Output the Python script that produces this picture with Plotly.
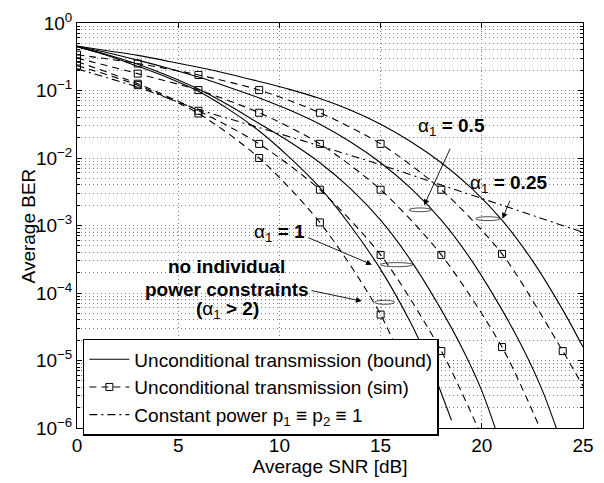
import plotly.graph_objects as go

# ---------------- data ----------------
# Bound curves (solid): SNR [dB] and BER
bound_x = [0, 1.5, 3, 4.5, 6, 7.5, 9, 10.5, 12, 13.5, 15, 16.5, 18, 19.5, 21, 22.5, 24, 25]
bound_a025_y = [0.457, 0.389, 0.331, 0.272, 0.221, 0.176, 0.136, 0.104, 0.0759, 0.0513,
                0.0316, 0.0174, 0.00851, 0.00355, 0.00120, 3.02e-4, 5.62e-5, 1.58e-5]

bound_a05_x = [0, 1.5, 3, 4.5, 6, 7.5, 9, 10.5, 12, 13.5, 15, 16.5, 18, 19.5, 21, 22, 23, 23.68]
bound_a05_y = [0.452, 0.363, 0.282, 0.214, 0.158, 0.112, 0.0776, 0.0513, 0.0316, 0.0174,
               0.00851, 0.00355, 0.00120, 3.02e-4, 5.62e-5, 1.58e-5, 3.55e-6, 1e-6]

bound_a1_x = [0, 1.5, 3, 4.5, 6, 7.5, 9, 10.5, 12, 13.5, 15, 16.5, 18, 19, 20, 20.66]
bound_a1_y = [0.447, 0.339, 0.245, 0.166, 0.105, 0.0603, 0.0324, 0.0174, 0.00851, 0.00355,
              0.00120, 3.02e-4, 5.62e-5, 1.58e-5, 3.55e-6, 1e-6]

bound_free_x = [0, 1.5, 3, 4.5, 6, 7.5, 9, 10.5, 12, 13.5, 15, 16.5, 17.5, 18.5]
bound_free_y = [0.447, 0.331, 0.229, 0.155, 0.0977, 0.0525, 0.0251, 0.0102, 0.00363, 0.001,
                2.24e-4, 3.55e-5, 7.94e-6, 1.3e-6]

# Simulation points (squares) every 3 dB
sim_a025_x = [0, 3, 6, 9, 12, 15, 18, 21, 24]
sim_a025_y = [0.339, 0.251, 0.170, 0.1014, 0.0468, 0.0162, 0.00339, 3.80e-4, 1.38e-5]
sim_a05_x = [0, 3, 6, 9, 12, 15, 18, 21]
sim_a05_y = [0.302, 0.178, 0.1014, 0.0468, 0.0162, 0.00339, 3.67e-4, 1.58e-5]
sim_a1_x = [0, 3, 6, 9, 12, 15, 18]
sim_a1_y = [0.269, 0.126, 0.0501, 0.0162, 0.00339, 3.67e-4, 1.38e-5]
sim_free_x = [0, 3, 6, 9, 12, 15]
sim_free_y = [0.234, 0.120, 0.0457, 0.010, 0.00111, 4.79e-5]

# Where the dashed sim curves continue after the last square
tail_a025 = (25, 4.17e-6)
tail_a05 = (22.87, 1e-6)
tail_a1 = (19.81, 1e-6)
tail_free = (17.39, 1e-6)

# Constant power p1 = p2 = 1 (dash-dot)
const_x = [0, 3, 6, 9, 12, 15, 18, 21, 25]
const_y = [0.209, 0.112, 0.0525, 0.0282, 0.0151, 0.00794, 0.00398, 0.0020, 7.94e-4]

# Axis ticks
x_ticks = [0, 5, 10, 15, 20, 25]
y_tickvals = [1, 1e-1, 1e-2, 1e-3, 1e-4, 1e-5, 1e-6]
y_ticktext = ["10<sup>0</sup>", "10<sup>−1</sup>", "10<sup>−2</sup>", "10<sup>−3</sup>",
              "10<sup>−4</sup>", "10<sup>−5</sup>", "10<sup>−6</sup>"]

# ---------------- figure ----------------
BLACK = "black"
LW = 1.1
DASH = "7px,5px"
DASHDOT = "8px,4px,2px,4px"
FAMILY = "Liberation Sans"

fig = go.Figure()

bounds = [(bound_x, bound_a025_y), (bound_a05_x, bound_a05_y),
          (bound_a1_x, bound_a1_y), (bound_free_x, bound_free_y)]
for i, (bx, by) in enumerate(bounds):
    fig.add_trace(go.Scatter(x=bx, y=by, mode="lines",
                             line=dict(color=BLACK, width=LW, shape="spline", smoothing=0.8),
                             name="Unconditional transmission (bound)",
                             legendgroup="bound", showlegend=(i == 0)))

sims = [(sim_a025_x, sim_a025_y, tail_a025), (sim_a05_x, sim_a05_y, tail_a05),
        (sim_a1_x, sim_a1_y, tail_a1), (sim_free_x, sim_free_y, tail_free)]
for sx, sy, tail in sims:
    fig.add_trace(go.Scatter(x=sx + [tail[0]], y=sy + [tail[1]], mode="lines",
                             line=dict(color=BLACK, width=LW, dash=DASH, shape="spline", smoothing=0.8),
                             showlegend=False, legendgroup="sim"))
    fig.add_trace(go.Scatter(x=sx, y=sy, mode="markers",
                             marker=dict(symbol="square-open", size=7, color=BLACK,
                                         line=dict(color=BLACK, width=1)),
                             showlegend=False, legendgroup="sim"))

# legend entry for the sim curves
fig.add_trace(go.Scatter(x=[None], y=[None], mode="lines+markers",
                         line=dict(color=BLACK, width=LW, dash=DASH),
                         marker=dict(symbol="square-open", size=7, color=BLACK,
                                     line=dict(color=BLACK, width=1)),
                         name="Unconditional transmission (sim)", legendgroup="sim"))

fig.add_trace(go.Scatter(x=const_x, y=const_y, mode="lines",
                         line=dict(color=BLACK, width=LW, dash=DASHDOT, shape="spline", smoothing=0.8),
                         name="Constant power p<sub>1</sub> ≡ p<sub>2</sub> ≡ 1"))

# ---------------- annotations ----------------
TXT = dict(family=FAMILY, size=19, color=BLACK)
# (text, x, log10 y)
labels = [
    ("α<sub>1</sub><b> = 0.5</b>", 18.52, -1.54),
    ("α<sub>1</sub><b> = 0.25</b>", 21.33, -2.39),
    ("α<sub>1</sub><b> = 1</b>", 10.0, -3.11),
    ("<b>no individual</b>", 7.4, -3.61),
    ("<b>power constraints</b>", 7.4, -3.95),
    ("<b>(</b>α<sub>1</sub><b> > 2)</b>", 7.45, -4.25),
]
for t, x, ly in labels:
    fig.add_annotation(x=x, y=ly, xref="x", yref="y", text=t, showarrow=False,
                       font=TXT, xanchor="center", yanchor="middle")

# y-axis title
fig.add_annotation(x=-0.095, y=0.5, xref="paper", yref="paper", text="Average BER",
                   textangle=-90, showarrow=False, font=TXT, xanchor="center", yanchor="middle")

# arrows: (tip x, tip log y, tail x, tail log y)
arrows = [
    (17.15, -2.70, 18.47, -1.84),
    (21.02, -2.90, 21.42, -2.61),
    (14.57, -3.58, 11.35, -3.17),
    (14.07, -4.12, 11.51, -3.96),
]
for x, ly, ax, ay in arrows:
    fig.add_annotation(x=x, y=ly, ax=ax, ay=ay, xref="x", yref="y", axref="x", ayref="y",
                       text="", showarrow=True, arrowhead=2, arrowsize=1.3,
                       arrowwidth=0.9, arrowcolor=BLACK)

# small ellipses marking the curve groups: (x0, x1, y0, y1)
ellipses = [
    (19.7, 20.9, 1.18e-3, 1.35e-3),
    (16.4, 17.5, 1.60e-3, 1.82e-3),
    (15.0, 16.6, 2.45e-4, 2.82e-4),
    (14.7, 15.7, 6.8e-5, 7.8e-5),
]
for x0, x1, y0, y1 in ellipses:
    fig.add_shape(type="circle", xref="x", yref="y", x0=x0, x1=x1, y0=y0, y1=y1,
                  line=dict(color=BLACK, width=0.7))

GRID = "#808080"
GDASH = "1px,3px"
minor_vals = [m * 10.0 ** e for e in range(-6, 0) for m in range(2, 10)]

fig.update_xaxes(range=[0, 25], tickvals=x_ticks, ticks="inside", ticklen=5,
                 tickcolor=BLACK, showline=True, linecolor=BLACK, linewidth=1, mirror="ticks",
                 showgrid=True, gridcolor=GRID, griddash=GDASH, gridwidth=1,
                 zeroline=False,
                 title=dict(text="Average SNR [dB]", standoff=4, font=TXT),
                 tickfont=TXT)
fig.update_yaxes(type="log", range=[-6, 0], tickmode="array", tickvals=y_tickvals,
                 ticktext=y_ticktext, ticks="inside", ticklen=5, tickcolor=BLACK,
                 showline=True, linecolor=BLACK, linewidth=1, mirror="ticks",
                 showgrid=True, gridcolor=GRID, griddash=GDASH, gridwidth=1,
                 minor=dict(tickmode="array", tickvals=minor_vals, ticks="inside", ticklen=3,
                            tickcolor=BLACK, showgrid=True, gridcolor=GRID, griddash=GDASH,
                            gridwidth=1),
                 zeroline=False, tickfont=TXT)

fig.update_layout(
    width=604, height=483,
    margin=dict(l=77, r=10, t=21, b=50),
    paper_bgcolor="white", plot_bgcolor="white",
    font=TXT,
    legend=dict(x=0.0116, y=0.22, xanchor="left", yanchor="top", bgcolor="white",
                bordercolor=BLACK, borderwidth=1.5, font=TXT,
                itemwidth=40, tracegroupgap=0),
)

fig.write_html("out.html")
